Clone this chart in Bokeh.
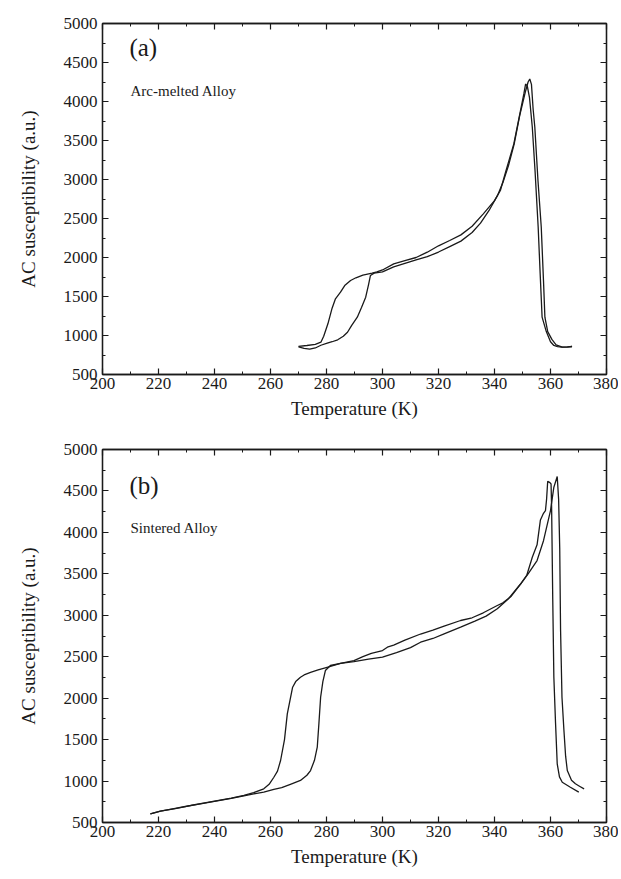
from bokeh.plotting import figure
from bokeh.layouts import column
from bokeh.models import Range1d, SingleIntervalTicker, LinearAxis, Label, CustomJSTickFormatter
from bokeh.embed import file_html
from bokeh.resources import INLINE

# ---------------- data ----------------
# Panel (a): arc-melted alloy
a_heat_T = [270, 272, 274, 276, 278, 280, 282, 284, 286, 287.5, 289, 291, 292.5, 294, 295, 295.7,
            297, 300, 304, 308, 312, 316, 320, 324, 328, 332, 335, 338, 341, 343, 345, 347, 349,
            351, 352, 352.6, 353.2, 353.8, 354.4, 355.5, 356.7, 357.5, 358, 359, 360.5, 362,
            364.2, 366, 367.7]
a_heat_chi = [855, 835, 825, 840, 875, 900, 920, 945, 990, 1042, 1130, 1235, 1360, 1491, 1650, 1770,
              1800, 1815, 1880, 1925, 1970, 2010, 2070, 2140, 2210, 2320, 2440, 2600, 2790, 2960,
              3180, 3450, 3820, 4120, 4250, 4289, 4220, 3900, 3670, 3000, 2388, 1700, 1235, 1050,
              950, 880, 850, 852, 859]

a_cool_T = [367.7, 366, 364, 362.5, 361.2, 360, 358.5, 357, 356.3, 355.6, 354.5, 353.5, 352.5,
            351.7, 351.1, 350.5, 349.3, 346.9, 344, 342.1, 340, 336, 332, 328, 324, 320, 316, 312,
            308, 304, 300, 298, 296.3, 293, 290.5, 288.6, 286.5, 285, 283.2, 282, 280.5, 279, 278,
            276, 273, 270]
a_cool_chi = [859, 855, 852, 858, 872, 920, 1050, 1235, 1800, 2388, 3100, 3670, 4050, 4200, 4224,
              4100, 3885, 3456, 3100, 2859, 2730, 2560, 2400, 2290, 2218, 2150, 2068, 2000, 1960,
              1919, 1840, 1815, 1799, 1775, 1740, 1705, 1640, 1555, 1470, 1350, 1150, 990, 914,
              885, 872, 860]

# Panel (b): sintered alloy
b_cool_T = [370.1, 367.1, 364.2, 363.2, 362.4, 361.8, 361.2, 360.8, 360.4, 360.2, 359.8, 359,
            358.6, 358.2, 357.5, 356.4, 355.2, 353.5, 351.5, 349.3, 346, 343, 341, 336, 332, 327.9,
            322, 318, 313.6, 308, 304, 302, 300, 296, 293, 289.8, 285, 280.2, 277, 274.3, 272,
            270.7, 269, 267.9, 266, 265, 263.6, 262.5, 261.2, 259.5, 257.6, 254, 250.5, 246, 241,
            236, 231.4, 226, 220.7, 217.1]
b_cool_chi = [866, 926, 986, 1050, 1208, 1700, 2253, 3200, 4300, 4584, 4600, 4616, 4400, 4263, 4230,
              4150, 3850, 3700, 3480, 3377, 3230, 3150, 3118, 3030, 2970, 2937, 2870, 2820, 2774,
              2700, 2640, 2620, 2575, 2540, 2500, 2454, 2420, 2372, 2340, 2311, 2280, 2253, 2200,
              2132, 1811, 1500, 1248, 1120, 1046, 960, 906, 860, 826, 795, 765, 735, 705, 670, 636,
              605]

b_heat_T = [217.1, 220.7, 226, 231.4, 236, 241, 246, 250.5, 254, 257.6, 261.2, 264, 267.1, 270.7,
            273, 274.3, 275.7, 276.7, 277.3, 277.9, 278.7, 279.6, 281.4, 285, 289.8, 295, 300, 305,
            310, 313.6, 318, 322, 327.9, 333, 337, 341, 345, 349.3, 352, 355.2, 357.5, 360, 361.2,
            362.4, 362.9, 363.3, 363.6, 364.1, 364.8, 365.4, 366, 367.5, 368.9, 370.5, 372]
b_heat_chi = [605, 636, 668, 703, 732, 762, 790, 820, 845, 866, 900, 920, 960, 1007, 1070, 1127,
              1250, 1408, 1700, 2011, 2200, 2333, 2394, 2420, 2440, 2470, 2494, 2550, 2610, 2675,
              2720, 2775, 2856, 2930, 2990, 3078, 3200, 3377, 3500, 3660, 3900, 4263, 4545, 4674,
              4400, 3800, 2816, 2011, 1610, 1300, 1127, 1010, 967, 935, 905]

x_label = "Temperature (K)"
y_label = "AC susceptibility (a.u.)"

FONT = "Liberation Serif"
INK = "#1a1a1a"


def style_axis(ax, labels=True):
    ax.axis_line_color = INK
    ax.axis_line_width = 1.3
    ax.major_tick_line_color = INK
    ax.minor_tick_line_color = INK
    ax.major_tick_line_width = 1.2
    ax.minor_tick_line_width = 1.0
    ax.major_tick_in = 6
    ax.major_tick_out = 0
    ax.minor_tick_in = 3
    ax.minor_tick_out = 0
    ax.major_label_text_font = FONT
    ax.major_label_text_font_size = "17px"
    ax.major_label_text_color = INK
    ax.axis_label_text_font = FONT
    ax.axis_label_text_font_size = "19px"
    ax.axis_label_text_font_style = "normal"
    ax.axis_label_text_color = INK
    if not labels:
        ax.formatter = CustomJSTickFormatter(code="return ''")
        ax.major_label_standoff = 0


def make_fig(height, btop, bbottom, curves, tag, name, tag_y, name_y):
    p = figure(width=618, height=height, output_backend="svg", toolbar_location=None,
               x_range=Range1d(200, 380), y_range=Range1d(500, 5000),
               min_border_left=102, min_border_right=12, min_border_top=btop,
               min_border_bottom=bbottom)
    p.xgrid.visible = False
    p.ygrid.visible = False
    p.outline_line_color = INK
    p.outline_line_width = 1.3
    p.background_fill_color = "white"
    p.border_fill_color = "white"

    p.xaxis.ticker = SingleIntervalTicker(interval=20, num_minor_ticks=2)
    p.yaxis.ticker = SingleIntervalTicker(interval=500, num_minor_ticks=2)
    p.xaxis.axis_label = x_label
    p.yaxis.axis_label = y_label
    p.xaxis.major_label_standoff = 3
    p.xaxis.axis_label_standoff = 6
    p.yaxis.major_label_standoff = 5
    p.yaxis.axis_label_standoff = 22
    style_axis(p.xaxis[0])
    style_axis(p.yaxis[0])

    top = LinearAxis(ticker=SingleIntervalTicker(interval=20, num_minor_ticks=2))
    right = LinearAxis(ticker=SingleIntervalTicker(interval=500, num_minor_ticks=2))
    style_axis(top, labels=False)
    style_axis(right, labels=False)
    p.add_layout(top, "above")
    p.add_layout(right, "right")

    for T, chi in curves:
        p.line(T, chi, line_color=INK, line_width=1.3)

    p.add_layout(Label(x=209.6, y=tag_y, text=tag, text_font=FONT, text_font_size="25px",
                       text_color=INK, text_baseline="middle"))
    p.add_layout(Label(x=210, y=name_y, text=name, text_font=FONT, text_font_size="15px",
                       text_color=INK, text_baseline="middle"))
    return p


p1 = make_fig(428, 23, 54, [(a_heat_T, a_heat_chi), (a_cool_T, a_cool_chi)],
              "(a)", "Arc-melted Alloy", 4690, 4140)
p2 = make_fig(444, 21, 50, [(b_heat_T, b_heat_chi), (b_cool_T, b_cool_chi)],
              "(b)", "Sintered Alloy", 4565, 4058)

layout = column(p1, p2)
open("out.html", "w").write(file_html(layout, INLINE))
